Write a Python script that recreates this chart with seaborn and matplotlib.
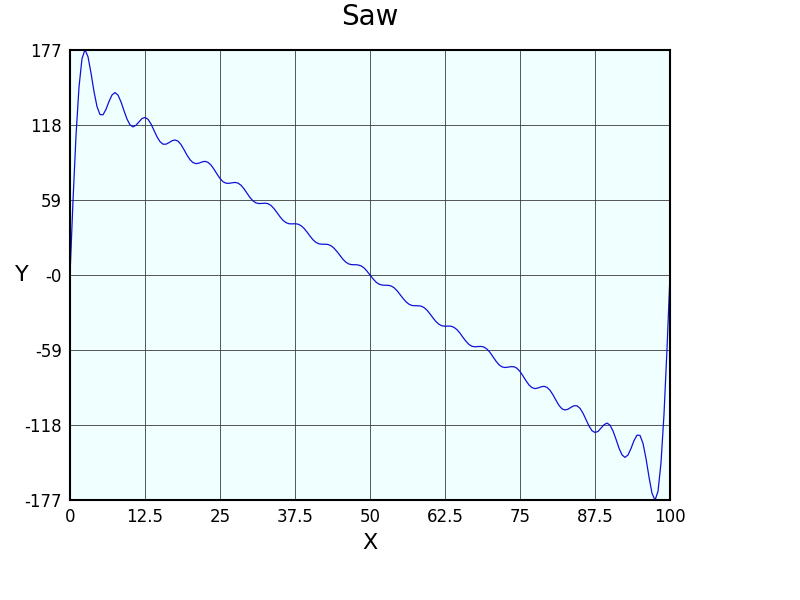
import matplotlib

matplotlib.use("Agg")
import matplotlib.pyplot as plt
import pandas as pd
import seaborn as sns


TITLE = "Saw"

# sample positions along X
X_VALUES = [
    0.0, 0.5, 1.0, 1.5, 2.0, 2.5, 3.0, 3.5, 4.0, 4.5,
    5.0, 5.5, 6.0, 6.5, 7.0, 7.5, 8.0, 8.5, 9.0, 9.5,
    10.0, 10.5, 11.0, 11.5, 12.0, 12.5, 13.0, 13.5, 14.0, 14.5,
    15.0, 15.5, 16.0, 16.5, 17.0, 17.5, 18.0, 18.5, 19.0, 19.5,
    20.0, 20.5, 21.0, 21.5, 22.0, 22.5, 23.0, 23.5, 24.0, 24.5,
    25.0, 25.5, 26.0, 26.5, 27.0, 27.5, 28.0, 28.5, 29.0, 29.5,
    30.0, 30.5, 31.0, 31.5, 32.0, 32.5, 33.0, 33.5, 34.0, 34.5,
    35.0, 35.5, 36.0, 36.5, 37.0, 37.5, 38.0, 38.5, 39.0, 39.5,
    40.0, 40.5, 41.0, 41.5, 42.0, 42.5, 43.0, 43.5, 44.0, 44.5,
    45.0, 45.5, 46.0, 46.5, 47.0, 47.5, 48.0, 48.5, 49.0, 49.5,
    50.0, 50.5, 51.0, 51.5, 52.0, 52.5, 53.0, 53.5, 54.0, 54.5,
    55.0, 55.5, 56.0, 56.5, 57.0, 57.5, 58.0, 58.5, 59.0, 59.5,
    60.0, 60.5, 61.0, 61.5, 62.0, 62.5, 63.0, 63.5, 64.0, 64.5,
    65.0, 65.5, 66.0, 66.5, 67.0, 67.5, 68.0, 68.5, 69.0, 69.5,
    70.0, 70.5, 71.0, 71.5, 72.0, 72.5, 73.0, 73.5, 74.0, 74.5,
    75.0, 75.5, 76.0, 76.5, 77.0, 77.5, 78.0, 78.5, 79.0, 79.5,
    80.0, 80.5, 81.0, 81.5, 82.0, 82.5, 83.0, 83.5, 84.0, 84.5,
    85.0, 85.5, 86.0, 86.5, 87.0, 87.5, 88.0, 88.5, 89.0, 89.5,
    90.0, 90.5, 91.0, 91.5, 92.0, 92.5, 93.0, 93.5, 94.0, 94.5,
    95.0, 95.5, 96.0, 96.5, 97.0, 97.5, 98.0, 98.5, 99.0, 99.5,
    100.0,
]

# saw curve (ringing near both ends)
Y_VALUES = [
    0.0, 58.4, 109.6, 147.8, 170.2, 177.2, 171.7, 158.9, 144.3, 132.5,
    126.2, 126.0, 130.3, 136.5, 141.6, 143.5, 141.5, 136.2, 129.2, 122.7,
    118.1, 116.5, 117.8, 120.5, 123.1, 123.9, 122.5, 118.8, 113.8, 108.7,
    104.9, 102.9, 102.9, 104.1, 105.6, 106.2, 105.3, 102.6, 98.6, 94.3,
    90.7, 88.4, 87.6, 88.0, 88.9, 89.4, 88.6, 86.5, 83.2, 79.4,
    75.9, 73.4, 72.2, 72.1, 72.5, 72.8, 72.3, 70.6, 67.8, 64.3,
    60.9, 58.3, 56.7, 56.2, 56.3, 56.5, 56.1, 54.7, 52.2, 49.1,
    45.8, 43.0, 41.2, 40.3, 40.2, 40.3, 40.0, 38.8, 36.7, 33.8,
    30.6, 27.7, 25.6, 24.5, 24.2, 24.2, 24.0, 23.0, 21.1, 18.4,
    15.3, 12.3, 10.0, 8.6, 8.1, 8.1, 7.9, 7.2, 5.6, 3.0,
    0.0, -3.0, -5.6, -7.2, -7.9, -8.1, -8.1, -8.6, -10.0, -12.3,
    -15.3, -18.4, -21.1, -23.0, -24.0, -24.2, -24.2, -24.5, -25.6, -27.7,
    -30.6, -33.8, -36.7, -38.8, -40.0, -40.3, -40.2, -40.3, -41.2, -43.0,
    -45.8, -49.1, -52.2, -54.7, -56.1, -56.5, -56.3, -56.2, -56.7, -58.3,
    -60.9, -64.3, -67.8, -70.6, -72.3, -72.8, -72.5, -72.1, -72.2, -73.4,
    -75.9, -79.4, -83.2, -86.5, -88.6, -89.4, -88.9, -88.0, -87.6, -88.4,
    -90.7, -94.3, -98.6, -102.6, -105.3, -106.2, -105.6, -104.1, -102.9, -102.9,
    -104.9, -108.7, -113.8, -118.8, -122.5, -123.9, -123.1, -120.5, -117.8, -116.5,
    -118.1, -122.7, -129.2, -136.2, -141.5, -143.5, -141.6, -136.5, -130.3, -126.0,
    -126.2, -132.5, -144.3, -158.9, -171.7, -177.2, -170.2, -147.8, -109.6, -58.4,
    0.0,
]

X_TICKS = [0, 12.5, 25, 37.5, 50, 62.5, 75, 87.5, 100]
X_TICK_LABELS = ["0", "12.5", "25", "37.5", "50", "62.5", "75", "87.5", "100"]
Y_TICKS = [-177, -118, -59, 0, 59, 118, 177]
Y_TICK_LABELS = ["-177", "-118", "-59", "-0", "59", "118", "177"]


def main():
    sns.set_theme(style="white")
    plt.rcParams["font.family"] = ["DejaVu Sans"]
    plt.rcParams["text.color"] = "black"
    plt.rcParams["axes.labelcolor"] = "black"

    df = pd.DataFrame({"x": X_VALUES, "y": Y_VALUES})

    fig = plt.figure(figsize=(8, 6), dpi=100)
    ax = fig.add_axes([0.0875, 0.1667, 0.75, 0.75])
    ax.set_facecolor("#f0ffff")

    sns.lineplot(data=df, x="x", y="y", color="#1010d8", linewidth=0.9,
                 sort=False, ax=ax, zorder=3)

    ax.set_xlim(0, 100)
    ax.set_ylim(-177, 177)
    ax.set_xticks(X_TICKS)
    ax.set_xticklabels(X_TICK_LABELS)
    ax.set_yticks(Y_TICKS)
    ax.set_yticklabels(Y_TICK_LABELS)
    ax.tick_params(axis="both", length=0, pad=6, labelsize=12, colors="black")

    ax.grid(True, color="#3a3a3a", linewidth=0.6)
    for spine in ax.spines.values():
        spine.set_color("black")
        spine.set_linewidth(1.5)
        spine.set_zorder(4)

    ax.set_title(TITLE, fontsize=20, pad=18, color="black")
    ax.set_xlabel("X", fontsize=16)
    ax.set_ylabel("Y", fontsize=16, rotation=0, va="center", ha="center")
    ax.xaxis.set_label_coords(0.5, -0.074)
    ax.yaxis.set_label_coords(-0.08, 0.5)

    fig.savefig("out.png", dpi=100)
    plt.close(fig)


if __name__ == "__main__":
    main()
